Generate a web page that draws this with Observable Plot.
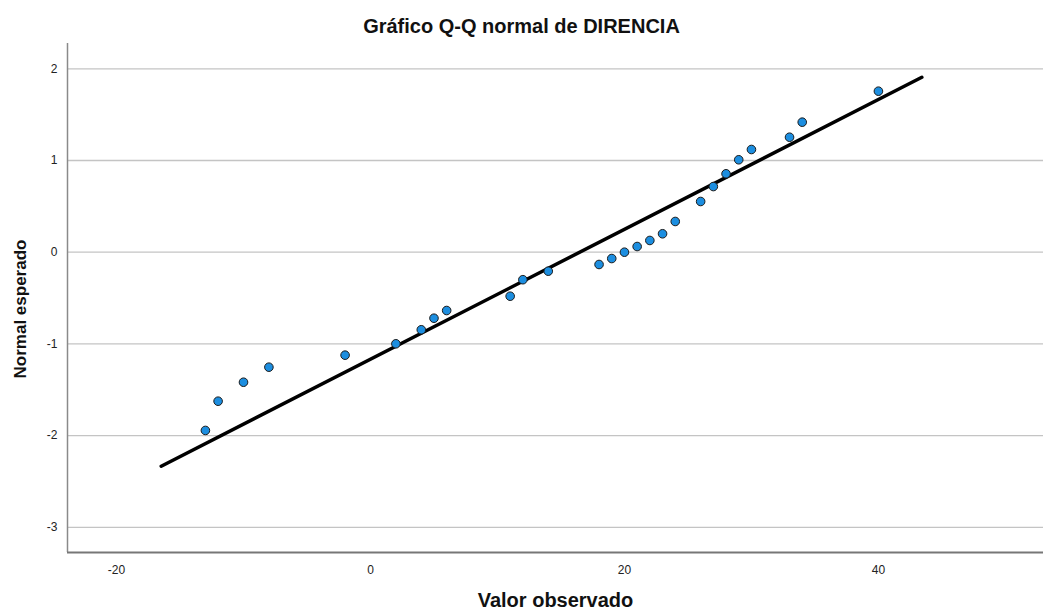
<!DOCTYPE html>
<html><head><meta charset="utf-8">
<script src="https://cdn.jsdelivr.net/npm/d3@7"></script>
<script src="https://cdn.jsdelivr.net/npm/@observablehq/plot@0.6"></script>
<style>
body{margin:0;background:#fff;font-family:"Liberation Sans",Arial,sans-serif;}
#title{box-sizing:border-box;height:33px;width:1043px;padding-top:16px;text-align:center;font-size:20px;font-weight:bold;line-height:20px;color:#111;white-space:nowrap;}
#chart svg{display:block;}
</style></head><body>
<div id="title">Gráfico Q-Q normal de DIRENCIA</div>
<div id="chart"></div>
<script>
// Observed values (x) and expected normal quantiles (y)
const observed = [-13, -12, -10, -8, -2, 2, 4, 5, 6, 11, 12, 14, 18, 19, 20, 21, 22, 23, 24, 26, 27, 28, 29, 30, 33, 34, 40];
const expected = [-1.944, -1.625, -1.418, -1.254, -1.123, -0.999, -0.846, -0.72, -0.636, -0.48, -0.30, -0.207, -0.134, -0.069, 0, 0.062, 0.128, 0.201, 0.335, 0.553, 0.716, 0.855, 1.008, 1.12, 1.254, 1.418, 1.756];
// Reference line endpoints
const lineX = [-16.48, 43.42];
const lineY = [-2.334, 1.908];
// Ticks
const xTicks = [-20, 0, 20, 40];
const yTicks = [-3, -2, -1, 0, 1, 2];
const xDomain = [-23.86, 53.0];
const yDomain = [-3.275, 2.276];

const points = observed.map((x, i) => ({x, y: expected[i]}));
const refLine = lineX.map((x, i) => ({x, y: lineY[i]}));
const fmt = d => String(d);

const chart = Plot.plot({
  width: 1043,
  height: 582,
  marginTop: 10,
  marginBottom: 63,
  marginLeft: 67,
  marginRight: 0,
  style: {fontFamily: '"Liberation Sans", Arial, sans-serif', fontSize: "12px", color: "#222", background: "#fff"},
  x: {domain: xDomain},
  y: {domain: yDomain},
  marks: [
    Plot.gridY(yTicks, {stroke: "#c4c4c4", strokeOpacity: 1, strokeWidth: 1.3}),
    Plot.ruleX([xDomain[0]], {stroke: "#8a8a8a", strokeWidth: 1.5}),
    Plot.ruleY([yDomain[0]], {stroke: "#777", strokeWidth: 2}),
    Plot.axisX(xTicks, {tickSize: 0, tickPadding: 13, label: null, fontSize: 12, tickFormat: fmt}),
    Plot.axisY(yTicks, {tickSize: 0, tickPadding: 10, label: null, fontSize: 12, tickFormat: fmt}),
    Plot.line(refLine, {x: "x", y: "y", stroke: "#000", strokeWidth: 3.5}),
    Plot.dot(points, {x: "x", y: "y", r: 4.3, fill: "#1c8ee0", stroke: "#1a1a1a", strokeWidth: 1}),
    Plot.text(["Valor observado"], {frameAnchor: "bottom", dy: 54, fontSize: 20, fontWeight: "bold", fill: "#111"}),
    Plot.text(["Normal esperado"], {frameAnchor: "left", textAnchor: "middle", dx: -47, dy: 11, rotate: -90, fontSize: 17, fontWeight: "bold", fill: "#111"})
  ]
});
document.getElementById("chart").appendChild(chart);
</script>
</body></html>
